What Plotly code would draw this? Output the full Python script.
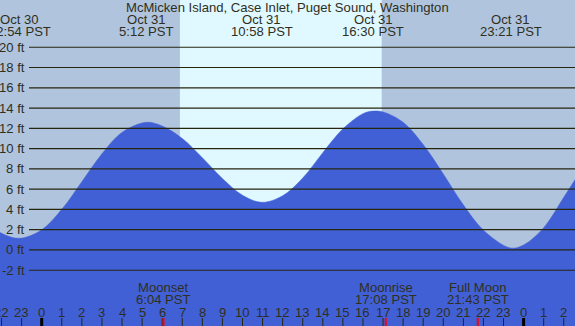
import plotly.graph_objects as go

W, H = 575, 326

# Tide height (hours from Oct 31 00:00 PST, feet)
tide_hours = [-3, -2, -1.1, 0, 1, 2, 3, 4, 5.2, 6, 7, 8, 9, 10, 10.967, 12, 13, 14, 15, 16,
              16.5, 17, 18, 19, 20, 21, 22, 23.35, 24, 25, 26, 27]
tide_feet = [3.1, 1.65, 1.15, 1.99, 4.01, 6.74, 9.49, 11.6, 12.6, 12.23, 11.0, 9.1, 7.05, 5.4, 4.7,
             5.35, 7.1, 9.6, 11.95, 13.45, 13.7, 13.62, 12.6, 10.4, 7.5, 4.45, 1.95, 0.2, 0.5, 2.2,
             5.2, 8.3]

# High / low tide labels (day offset relative to Oct 31)
extreme_dates = ["Oct 30", "Oct 31", "Oct 31", "Oct 31", "Oct 31"]
extreme_day_offset = [-1, 0, 0, 0, 0]
extreme_times = ["22:54", "5:12", "10:58", "16:30", "23:21"]

# Sun
sunrise, sunset = "6:53", "16:56"

# Moon events
moon_names = ["Moonset", "Moonrise", "Full Moon"]
moon_times = ["6:04", "17:08", "21:43"]

# Axis
ft_ticks = list(range(-2, 21, 2))
hour_ticks = list(range(-2, 27))
x_range = [-2.077, 26.56]
y_range = [-7.5, 24.66]
floor_ft = -9

TITLE = "McMicken Island, Case Inlet, Puget Sound, Washington"

NIGHT = "#b0c4de"
DAY = "#e0f8ff"
WATER = "#4160d6"
TEXT = "#2f2f1c"
GRID = "#26260f"
FONT = "Liberation Sans, Arial, sans-serif"
FS = 13.1


def to_h(t, day=0):
    hh, mm = t.split(":")
    return int(hh) + int(mm) / 60 + 24 * day


def py(pix):
    return 1 - pix / H


fig = go.Figure()
fig.add_trace(go.Scatter(x=[x_range[0] - 2, x_range[1] + 2], y=[floor_ft, floor_ft],
                         mode="lines", line=dict(width=0, color=WATER), showlegend=False,
                         hoverinfo="skip"))
fig.add_trace(go.Scatter(x=tide_hours, y=tide_feet, mode="lines",
                         line=dict(color=WATER, width=0.5, shape="spline", smoothing=1.0),
                         fill="tonexty", fillcolor=WATER, showlegend=False, hoverinfo="skip"))

shapes = []
# daylight band
shapes.append(dict(type="rect", xref="x", yref="paper", x0=to_h(sunrise), x1=to_h(sunset),
                   y0=0, y1=1, fillcolor=DAY, line=dict(width=0), layer="below"))
# horizontal grid lines
for f in ft_ticks:
    shapes.append(dict(type="line", xref="paper", yref="y", x0=29 / W, x1=1, y0=f, y1=f,
                       line=dict(color=GRID, width=1.2), layer="above"))
# hour ticks
for h in hour_ticks:
    midnight = (h % 24 == 0)
    shapes.append(dict(type="line", xref="x", yref="paper", x0=h, x1=h, y0=0,
                       y1=(H - 318) / H,
                       line=dict(color="#000000" if midnight else GRID, width=3 if midnight else 1),
                       layer="above"))
# moon event ticks
for t in moon_times:
    shapes.append(dict(type="line", xref="x", yref="paper", x0=to_h(t), x1=to_h(t), y0=0,
                       y1=(H - 318) / H, line=dict(color="#ff0000", width=2), layer="above"))

ann = []
font = dict(family=FONT, size=FS, color=TEXT)
ann.append(dict(text=TITLE, xref="paper", yref="paper", x=0.5, y=py(7.5), showarrow=False,
                font=font, xanchor="center", yanchor="middle"))
for d, off, t in zip(extreme_dates, extreme_day_offset, extreme_times):
    h = to_h(t, off)
    ann.append(dict(text=d, xref="x", yref="paper", x=h, y=py(20), showarrow=False, font=font,
                    xanchor="center", yanchor="middle"))
    ann.append(dict(text=t + " PST", xref="x", yref="paper", x=h, y=py(32), showarrow=False,
                    font=font, xanchor="center", yanchor="middle"))
for f in ft_ticks:
    ann.append(dict(text=f"{f} ft", xref="paper", yref="y", x=27 / W, y=f, showarrow=False,
                    font=font, xanchor="right", yanchor="middle"))
for h in hour_ticks:
    ann.append(dict(text=str(h % 24), xref="x", yref="paper", x=h, y=py(312), showarrow=False,
                    font=font, xanchor="center", yanchor="middle"))
for n, t in zip(moon_names, moon_times):
    h = to_h(t)
    ann.append(dict(text=n, xref="x", yref="paper", x=h, y=py(287.5), showarrow=False,
                    font=font, xanchor="center", yanchor="middle"))
    ann.append(dict(text=t + " PST", xref="x", yref="paper", x=h, y=py(299.5), showarrow=False,
                    font=font, xanchor="center", yanchor="middle"))

fig.update_layout(
    width=W, height=H, margin=dict(l=0, r=0, t=0, b=0),
    paper_bgcolor=NIGHT, plot_bgcolor=NIGHT,
    xaxis=dict(range=x_range, visible=False, fixedrange=True),
    yaxis=dict(range=y_range, visible=False, fixedrange=True),
    shapes=shapes, annotations=ann, showlegend=False,
)
fig.write_html("out.html", config={"displayModeBar": False},
               post_script="document.body.style.margin='0';document.body.style.overflow='hidden';")
